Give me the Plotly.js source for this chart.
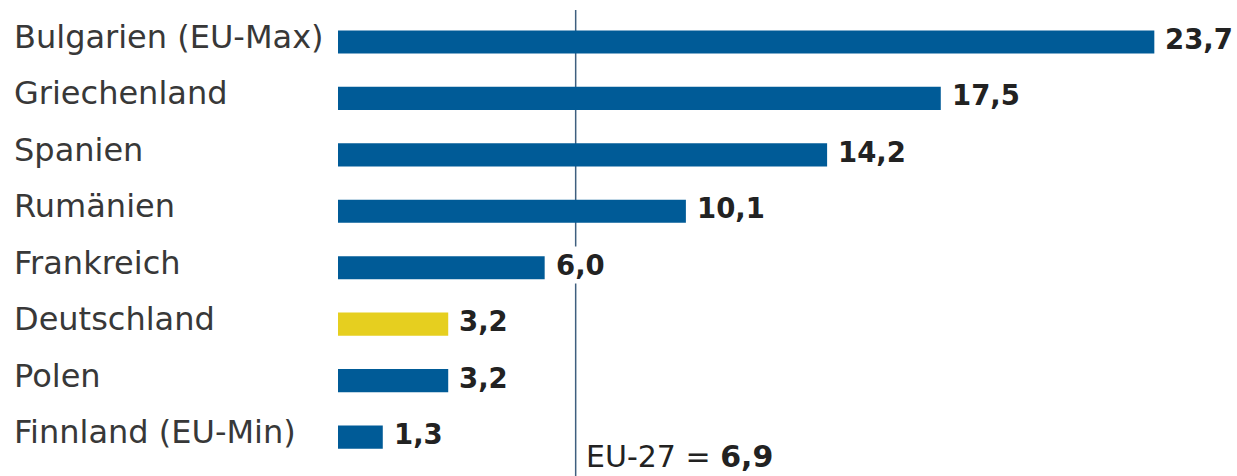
<!DOCTYPE html>
<html>
<head>
<meta charset="utf-8">
<script src="https://cdn.plot.ly/plotly-3.0.1.min.js"></script>
<style>html,body{margin:0;padding:0;background:#fff;}#chart{width:1237px;height:476px;}</style>
</head>
<body>
<div id="chart"></div>
<script>
const countries = ["Bulgarien (EU-Max)", "Griechenland", "Spanien", "Rumänien", "Frankreich", "Deutschland", "Polen", "Finnland (EU-Min)"];
const values = [23.7, 17.5, 14.2, 10.1, 6.0, 3.2, 3.2, 1.3];
const valueLabels = ["23,7", "17,5", "14,2", "10,1", "6,0", "3,2", "3,2", "1,3"];
const euAverage = 6.9;
const euLabel = "EU-27 = ";
const euValueLabel = "6,9";

const blue = "#005b97";
const yellow = "#e6cf1f";
const idx = countries.map((c, i) => i);
const colors = countries.map(c => c === "Deutschland" ? yellow : blue);
const FONT = "DejaVu Sans, sans-serif";

const annotations = [];
countries.forEach((c, i) => {
  annotations.push({
    x: 0, xref: "paper", y: i, yref: "y", xanchor: "left", yanchor: "middle",
    xshift: -326, yshift: 5, text: c, showarrow: false,
    font: {family: FONT, size: 32, color: "#383838"}
  });
  annotations.push({
    x: values[i], xref: "x", y: i, yref: "y", xanchor: "left", yanchor: "middle",
    xshift: 8, yshift: 3, text: "<b>" + valueLabels[i] + "</b>", showarrow: false,
    bgcolor: "#ffffff", borderpad: 2,
    font: {family: FONT, size: 27.5, color: "#222"}
  });
});
annotations.push({
  x: euAverage, xref: "x", y: 7.69, yref: "y", xanchor: "left", yanchor: "bottom",
  xshift: 8, yshift: 0, text: euLabel + "<b>" + euValueLabel + "</b>", showarrow: false,
  font: {family: FONT, size: 30, color: "#222"}
});

const data = [{
  type: "bar", orientation: "h",
  x: values, y: idx,
  marker: {color: colors},
  width: 0.41,
  hoverinfo: "skip"
}];

const layout = {
  width: 1237, height: 476,
  margin: {l: 338, r: 0, t: 0, b: 0},
  paper_bgcolor: "#fff", plot_bgcolor: "#fff",
  showlegend: false,
  xaxis: {range: [0, 26.1], visible: false, fixedrange: true},
  yaxis: {range: [7.69, -0.744], visible: false, fixedrange: true},
  shapes: [{
    type: "line", layer: "below", xref: "x", yref: "y",
    x0: euAverage, x1: euAverage, y0: -0.567, y1: 7.69,
    line: {color: "#3f5f7f", width: 1.5}
  }],
  annotations: annotations
};

Plotly.newPlot("chart", data, layout, {displayModeBar: false, staticPlot: true});
</script>
</body>
</html>
